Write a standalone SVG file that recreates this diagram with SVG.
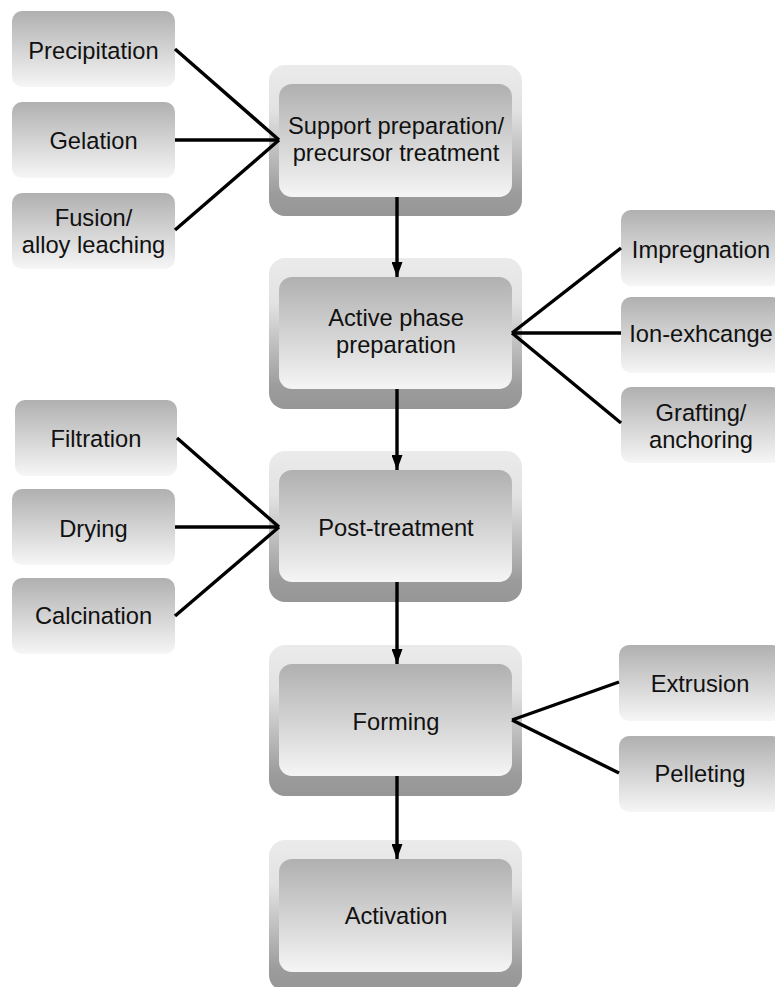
<svg xmlns="http://www.w3.org/2000/svg" width="775" height="987" viewBox="0 0 775 987">
<defs>
<linearGradient id="gSide" x1="0" y1="0" x2="0" y2="1">
<stop offset="0" stop-color="#b0b0b0"/>
<stop offset="1" stop-color="#f6f6f6"/>
</linearGradient>
<linearGradient id="gOuter" x1="0" y1="0" x2="0" y2="1">
<stop offset="0" stop-color="#ebebeb"/>
<stop offset="0.3" stop-color="#e2e2e2"/>
<stop offset="0.85" stop-color="#9c9c9c"/>
<stop offset="1" stop-color="#969696"/>
</linearGradient>
<linearGradient id="gInner" x1="0" y1="0" x2="0" y2="1">
<stop offset="0" stop-color="#b0b0b0"/>
<stop offset="1" stop-color="#f5f5f5"/>
</linearGradient>
<marker id="arr" markerUnits="userSpaceOnUse" markerWidth="15" markerHeight="11" refX="15" refY="5.5" orient="auto">
<path d="M0,0 L15,5.5 L0,11 z" fill="#000"/>
</marker>
<style>
.side{fill:url(#gSide);}
.outer{fill:url(#gOuter);}
.inner{fill:url(#gInner);}
text{font-family:"Liberation Sans",Arial,sans-serif;font-size:23.7px;fill:#111;text-anchor:middle;}
.con line{stroke:#000;stroke-width:3.4;}
.arrows line{stroke:#000;stroke-width:3.4;marker-end:url(#arr);}
</style>
</defs>
<rect width="775" height="987" fill="#fff"/>

<g id="main1">
<rect class="outer" x="269" y="65" width="253" height="151" rx="16"/>
<rect class="inner" x="279" y="84" width="233" height="113" rx="13"/>
<text x="396" y="134">Support preparation/</text>
<text x="396" y="161">precursor treatment</text>
</g>
<g id="main2">
<rect class="outer" x="269" y="258" width="253" height="151" rx="16"/>
<rect class="inner" x="279" y="277" width="233" height="112" rx="13"/>
<text x="396" y="326">Active phase</text>
<text x="396" y="353">preparation</text>
</g>
<g id="main3">
<rect class="outer" x="269" y="451" width="253" height="151" rx="16"/>
<rect class="inner" x="279" y="470" width="233" height="112" rx="13"/>
<text x="396" y="536">Post-treatment</text>
</g>
<g id="main4">
<rect class="outer" x="269" y="645" width="253" height="151" rx="16"/>
<rect class="inner" x="279" y="664" width="233" height="112" rx="13"/>
<text x="396" y="730">Forming</text>
</g>
<g id="main5">
<rect class="outer" x="269" y="840" width="253" height="151" rx="16"/>
<rect class="inner" x="279" y="859" width="233" height="113" rx="13"/>
<text x="396" y="924">Activation</text>
</g>

<g id="precipitation">
<rect class="side" x="12" y="11" width="163" height="76" rx="10"/>
<text x="93.5" y="59">Precipitation</text>
</g>
<g id="gelation">
<rect class="side" x="12" y="102" width="163" height="76" rx="10"/>
<text x="93.5" y="149">Gelation</text>
</g>
<g id="fusion">
<rect class="side" x="12" y="193" width="163" height="76" rx="10"/>
<text x="93.5" y="226">Fusion/</text>
<text x="93.5" y="253">alloy leaching</text>
</g>

<g id="impregnation">
<rect class="side" x="621" y="210" width="161" height="76" rx="10"/>
<text x="701" y="258">Impregnation</text>
</g>
<g id="ionexchange">
<rect class="side" x="621" y="297" width="161" height="76" rx="10"/>
<text x="701" y="342">Ion-exhcange</text>
</g>
<g id="grafting">
<rect class="side" x="621" y="387" width="161" height="76" rx="10"/>
<text x="701" y="421">Grafting/</text>
<text x="701" y="448">anchoring</text>
</g>

<g id="filtration">
<rect class="side" x="15" y="400" width="162" height="76" rx="10"/>
<text x="96" y="447">Filtration</text>
</g>
<g id="drying">
<rect class="side" x="12" y="489" width="163" height="76" rx="10"/>
<text x="93.5" y="537">Drying</text>
</g>
<g id="calcination">
<rect class="side" x="12" y="578" width="163" height="76" rx="10"/>
<text x="93.5" y="624">Calcination</text>
</g>

<g id="extrusion">
<rect class="side" x="619" y="645" width="163" height="76" rx="10"/>
<text x="700" y="692">Extrusion</text>
</g>
<g id="pelleting">
<rect class="side" x="619" y="736" width="163" height="76" rx="10"/>
<text x="700" y="782">Pelleting</text>
</g>

<g id="connectors">
<g class="con">
<line x1="175" y1="49" x2="279" y2="140"/>
<line x1="175" y1="140" x2="279" y2="140"/>
<line x1="175" y1="230" x2="279" y2="140"/>
<line x1="621" y1="248" x2="512" y2="333"/>
<line x1="621" y1="333" x2="512" y2="333"/>
<line x1="621" y1="423" x2="512" y2="333"/>
<line x1="177" y1="438" x2="279" y2="527"/>
<line x1="175" y1="527" x2="279" y2="527"/>
<line x1="175" y1="616" x2="279" y2="527"/>
<line x1="619" y1="682" x2="512" y2="720"/>
<line x1="619" y1="773" x2="512" y2="720"/>
</g>
<g class="arrows">
<line x1="397" y1="197" x2="397" y2="277"/>
<line x1="397" y1="389" x2="397" y2="470"/>
<line x1="397" y1="582" x2="397" y2="664"/>
<line x1="397" y1="776" x2="397" y2="859"/>
</g>
</g>
</svg>
